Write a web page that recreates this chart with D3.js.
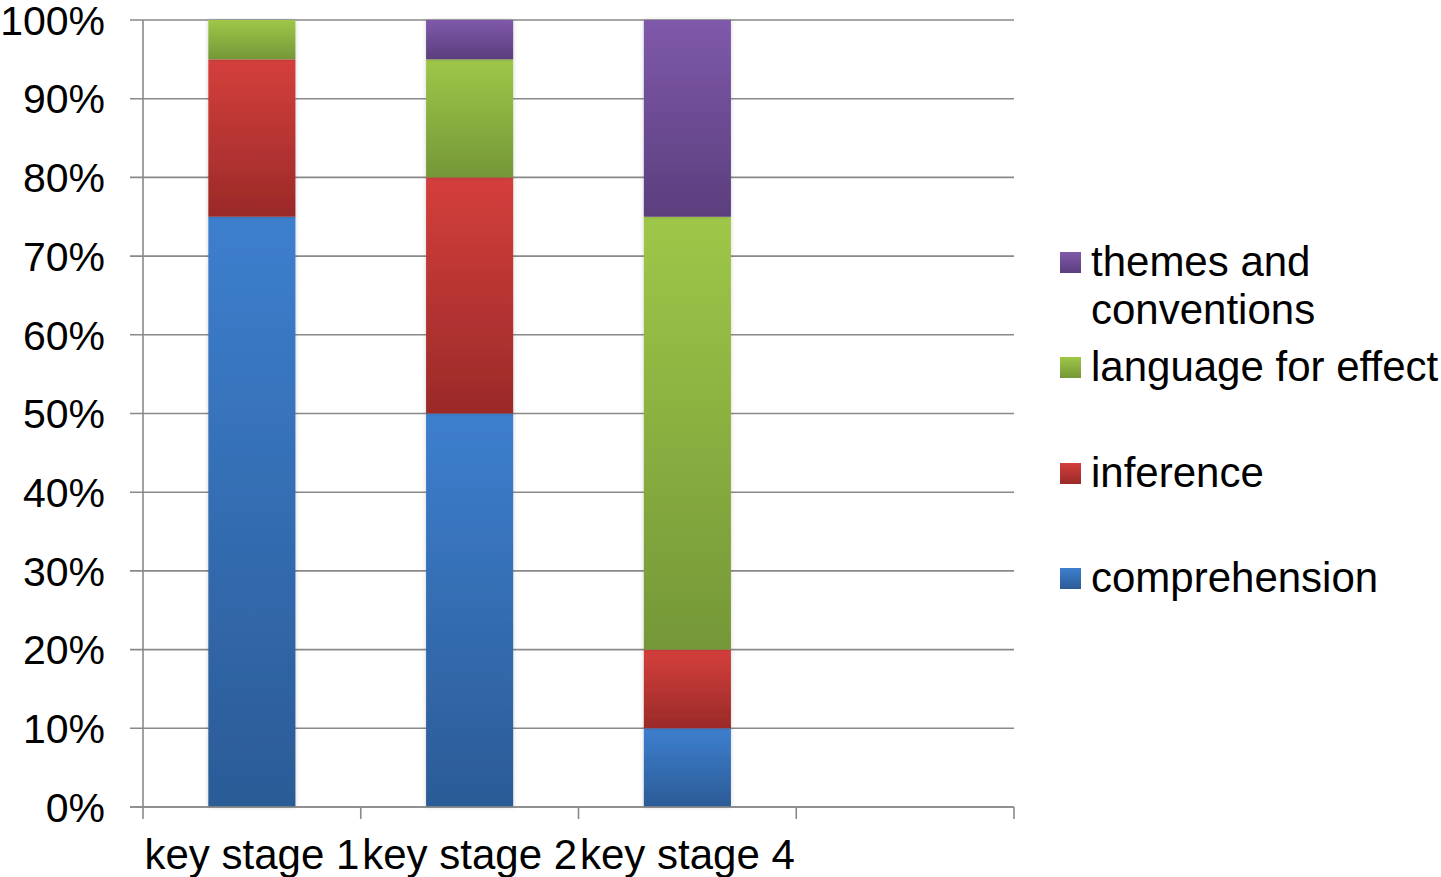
<!DOCTYPE html>
<html>
<head>
<meta charset="utf-8">
<script src="https://cdn.jsdelivr.net/npm/d3@7"></script>
<style>
  html, body { margin: 0; padding: 0; background: #fff; }
  svg { display: block; font-family: "Liberation Sans", Arial, sans-serif; }
</style>
</head>
<body>
<svg id="chart" width="1441" height="877"></svg>
<script>
// Share of reading focus per key stage (percent of each stage)
const categories = ["key stage 1", "key stage 2", "key stage 4"];
const seriesNames = ["comprehension", "inference", "language for effect", "themes and conventions"];
const comprehension = [75, 50, 10];
const inference = [20, 30, 10];
const languageForEffect = [5, 15, 55];
const themesAndConventions = [0, 5, 25];
const yTickLabels = ["0%", "10%", "20%", "30%", "40%", "50%", "60%", "70%", "80%", "90%", "100%"];

const seriesValues = [comprehension, inference, languageForEffect, themesAndConventions];
const palette = {
  "comprehension": ["#3d7fce", "#2b5b96"],
  "inference": ["#d43f3c", "#9a2a28"],
  "language for effect": ["#9ec748", "#759738"],
  "themes and conventions": ["#7f59aa", "#5b3e7d"]
};

const rows = categories.map((c, i) => {
  const r = { category: c };
  seriesNames.forEach((s, j) => { r[s] = seriesValues[j][i]; });
  return r;
});

const svg = d3.select("#chart");
const plot = { left: 143, right: 1014, top: 20, bottom: 807 };

// The axis has one more slot than there are stages; the last stays empty.
const x = d3.scaleBand()
  .domain(categories.concat(["\u200b"]))
  .range([plot.left, plot.right])
  .paddingInner(0).paddingOuter(0);
const barWidth = x.bandwidth() * 0.4;

const y = d3.scaleLinear().domain([0, 100]).range([plot.bottom, plot.top]);

const defs = svg.append("defs");
seriesNames.forEach((s, i) => {
  const g = defs.append("linearGradient")
    .attr("id", "grad" + i)
    .attr("x1", 0).attr("y1", 0).attr("x2", 0).attr("y2", 1);
  g.append("stop").attr("offset", "0%").attr("stop-color", palette[s][0]);
  g.append("stop").attr("offset", "100%").attr("stop-color", palette[s][1]);
});
const shadow = defs.append("filter").attr("id", "barShadow")
  .attr("x", "-20%").attr("y", "-5%").attr("width", "140%").attr("height", "110%");
shadow.append("feDropShadow")
  .attr("dx", 0).attr("dy", 0).attr("stdDeviation", 2)
  .attr("flood-color", "#000").attr("flood-opacity", 0.18);

const gridColor = "#898989";

// Horizontal gridlines, extending left past the axis as tick marks
const yTicks = d3.range(0, 101, 10);
svg.append("g").selectAll("line")
  .data(yTicks)
  .join("line")
  .attr("x1", 130).attr("x2", plot.right)
  .attr("y1", d => y(d)).attr("y2", d => y(d))
  .attr("stroke", gridColor).attr("stroke-width", 1.6);

// Y axis labels
svg.append("g").selectAll("text")
  .data(yTicks)
  .join("text")
  .attr("x", 105)
  .attr("y", d => y(d))
  .attr("dy", "0.36em")
  .attr("text-anchor", "end")
  .attr("font-size", 41)
  .attr("fill", "#000")
  .text((d, i) => yTickLabels[i]);

// Stacked bars
const stack = d3.stack().keys(seriesNames)(rows);
const barLayer = svg.append("g");
stack.forEach((layer, i) => {
  barLayer.append("g")
    .selectAll("rect")
    .data(layer.filter(d => d[1] - d[0] > 0))
    .join("rect")
    .attr("x", d => x(d.data.category) + (x.bandwidth() - barWidth) / 2)
    .attr("width", barWidth)
    .attr("y", d => y(d[1]))
    .attr("height", d => y(d[0]) - y(d[1]))
    .attr("fill", "url(#grad" + i + ")")
    .attr("filter", "url(#barShadow)");
});

// Axis lines
svg.append("line")
  .attr("x1", plot.left).attr("x2", plot.left)
  .attr("y1", plot.top).attr("y2", plot.bottom)
  .attr("stroke", gridColor).attr("stroke-width", 1.6);
svg.append("line")
  .attr("x1", 130).attr("x2", plot.right)
  .attr("y1", plot.bottom).attr("y2", plot.bottom)
  .attr("stroke", gridColor).attr("stroke-width", 1.6);

// X tick marks at slot boundaries
const bounds = x.domain().map(d => x(d)).concat([plot.right]);
svg.append("g").selectAll("line")
  .data(bounds)
  .join("line")
  .attr("x1", d => d).attr("x2", d => d)
  .attr("y1", plot.bottom).attr("y2", plot.bottom + 12)
  .attr("stroke", gridColor).attr("stroke-width", 1.6);

// X category labels
svg.append("g").selectAll("text")
  .data(categories)
  .join("text")
  .attr("x", d => x(d) + x.bandwidth() / 2)
  .attr("y", 869)
  .attr("text-anchor", "middle")
  .attr("font-size", 42)
  .attr("fill", "#000")
  .text(d => d);

// Legend (top to bottom: last series first)
const legendItems = [
  { name: "themes and conventions", lines: ["themes and", "conventions"], base: 276 },
  { name: "language for effect", lines: ["language for effect"], base: 381 },
  { name: "inference", lines: ["inference"], base: 487 },
  { name: "comprehension", lines: ["comprehension"], base: 592 }
];
const legend = svg.append("g");
legendItems.forEach(item => {
  const idx = seriesNames.indexOf(item.name);
  legend.append("rect")
    .attr("x", 1060).attr("y", item.base - 24)
    .attr("width", 21).attr("height", 21)
    .attr("fill", "url(#grad" + idx + ")");
  const t = legend.append("text")
    .attr("x", 1091).attr("y", item.base)
    .attr("font-size", 42).attr("fill", "#000");
  item.lines.forEach((ln, k) => {
    t.append("tspan").attr("x", 1091).attr("dy", k === 0 ? 0 : 48).text(ln);
  });
});
</script>
</body>
</html>
